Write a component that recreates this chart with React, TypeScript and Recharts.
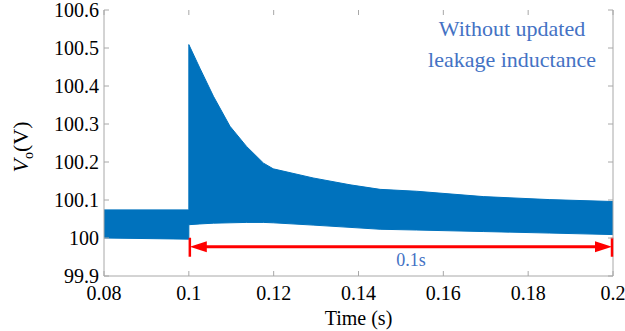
import { ComposedChart, Area, XAxis, YAxis, ReferenceLine } from 'recharts';

// upper / lower envelope of the output-voltage ripple band
const TIME = [0.08, 0.1, 0.1, 0.1026, 0.1058, 0.1097, 0.1136, 0.1176, 0.1199, 0.1293, 0.138, 0.1451, 0.1537, 0.1694, 0.1851, 0.2];
const V_LOW = [100.0, 99.997, 100.035, 100.037, 100.039, 100.04, 100.041, 100.041, 100.04, 100.034, 100.028, 100.023, 100.021, 100.017, 100.013, 100.009];
const V_HIGH = [100.074, 100.074, 100.509, 100.447, 100.373, 100.294, 100.241, 100.197, 100.182, 100.158, 100.14, 100.128, 100.123, 100.109, 100.101, 100.096];

const X_TICKS = [0.08, 0.1, 0.12, 0.14, 0.16, 0.18, 0.2];
const X_LABELS = ['0.08', '0.1', '0.12', '0.14', '0.16', '0.18', '0.2'];
const Y_TICKS = [99.9, 100, 100.1, 100.2, 100.3, 100.4, 100.5, 100.6];
const Y_LABELS = ['99.9', '100', '100.1', '100.2', '100.3', '100.4', '100.5', '100.6'];

// interval marker: 0.1 s after the step
const SPAN_START = 0.1;
const SPAN_END = 0.2;
const SPAN_LEVEL = 99.977;

const data = TIME.map((t, i) => ({ t, range: [V_LOW[i], V_HIGH[i]] }));

const W = 625;
const H = 331;
const LEFT = 104;
const RIGHT = 613;
const TOP = 10;
const BOTTOM = 276;
const AXIS = '#a8a8a8';
const BLUE = '#0072BD';
const NOTE = '#4472C4';
const FONT = 'Liberation Serif, DejaVu Serif, Noto Serif, Times New Roman, serif';

const labelFor = (ticks: number[], labels: string[], v: number) => {
  const i = ticks.findIndex((t) => Math.abs(t - v) < 1e-6);
  return i >= 0 ? labels[i] : String(v);
};

const XTick = ({ x, payload }: any) => (
  <g>
    <line x1={x} x2={x} y1={BOTTOM} y2={BOTTOM - 5} stroke={AXIS} />
    <line x1={x} x2={x} y1={TOP} y2={TOP + 5} stroke={AXIS} />
    <text x={x} y={300} textAnchor="middle" fontSize={20} style={{ fontFamily: FONT }} fill="#000">
      {labelFor(X_TICKS, X_LABELS, payload.value)}
    </text>
  </g>
);

const YTick = ({ y, payload }: any) => (
  <g>
    <line x1={LEFT} x2={LEFT + 5} y1={y} y2={y} stroke={AXIS} />
    <line x1={RIGHT - 5} x2={RIGHT} y1={y} y2={y} stroke={AXIS} />
    <text x={99} y={y + 7} textAnchor="end" fontSize={20} style={{ fontFamily: FONT }} fill="#000">
      {labelFor(Y_TICKS, Y_LABELS, payload.value)}
    </text>
  </g>
);

const YTitle = () => (
  <text transform="rotate(-90)" x={-147} y={28} textAnchor="middle" fontSize={22} style={{ fontFamily: FONT }} fill="#000">
    <tspan fontStyle="italic">V</tspan>
    <tspan fontSize={14} dy={5}>o</tspan>
    <tspan dy={-5}>(V)</tspan>
  </text>
);

const XTitle = () => (
  <text x={(LEFT + RIGHT) / 2} y={325} textAnchor="middle" fontSize={20} style={{ fontFamily: FONT }} fill="#000">
    Time (s)
  </text>
);

const SpanArrow = (p: any) => {
  const x1 = Math.min(p.x1, p.x2);
  const x2 = Math.max(p.x1, p.x2);
  const y = p.y1;
  return (
    <g>
      <line x1={x1 + 15} x2={x2 - 15} y1={y} y2={y} stroke="#ff0000" strokeWidth={3} />
      <polygon points={`${x1 + 1},${y} ${x1 + 18},${y - 5.5} ${x1 + 18},${y + 5.5}`} fill="#ff0000" />
      <polygon points={`${x2 - 1},${y} ${x2 - 18},${y - 5.5} ${x2 - 18},${y + 5.5}`} fill="#ff0000" />
      <line x1={x1 + 1} x2={x1 + 1} y1={y - 9} y2={y + 10} stroke="#ff0000" strokeWidth={2.5} />
      <line x1={x2 - 1} x2={x2 - 1} y1={y - 9} y2={y + 10} stroke="#ff0000" strokeWidth={2.5} />
      <text x={(x1 + x2) / 2 + 10} y={y + 19} textAnchor="middle" fontSize={18} style={{ fontFamily: FONT }} fill={NOTE}>
        0.1s
      </text>
    </g>
  );
};

export default function App() {
  return (
    <div style={{ position: 'absolute', left: 0, top: 0, width: W, height: H, background: '#fff', fontFamily: FONT }}>
      <ComposedChart width={W} height={H} data={data} margin={{ top: TOP, right: W - RIGHT, bottom: 0, left: 0 }}>
        <XAxis
          dataKey="t"
          type="number"
          domain={[0.08, 0.2]}
          ticks={X_TICKS}
          tick={<XTick />}
          tickLine={false}
          axisLine={{ stroke: AXIS }}
          height={H - BOTTOM}
          label={<XTitle />}
          allowDataOverflow
        />
        <YAxis
          type="number"
          domain={[99.9, 100.6]}
          ticks={Y_TICKS}
          tick={<YTick />}
          tickLine={false}
          axisLine={{ stroke: AXIS }}
          width={LEFT}
          label={<YTitle />}
          allowDataOverflow
        />
        <ReferenceLine x={0.2} stroke={AXIS} />
        <Area
          type="linear"
          dataKey="range"
          stroke={BLUE}
          strokeWidth={1}
          fill={BLUE}
          fillOpacity={1}
          isAnimationActive={false}
          dot={false}
          activeDot={false}
        />
        <ReferenceLine
          segment={[
            { x: SPAN_START, y: SPAN_LEVEL },
            { x: SPAN_END, y: SPAN_LEVEL },
          ]}
          shape={<SpanArrow />}
        />
      </ComposedChart>
      <div
        style={{
          position: 'absolute',
          left: 412,
          top: 13,
          width: 200,
          textAlign: 'center',
          fontFamily: FONT,
          fontSize: 22,
          lineHeight: '31px',
          color: NOTE,
          whiteSpace: 'nowrap',
        }}
      >
        Without updated
        <br />
        leakage inductance
      </div>
    </div>
  );
}
